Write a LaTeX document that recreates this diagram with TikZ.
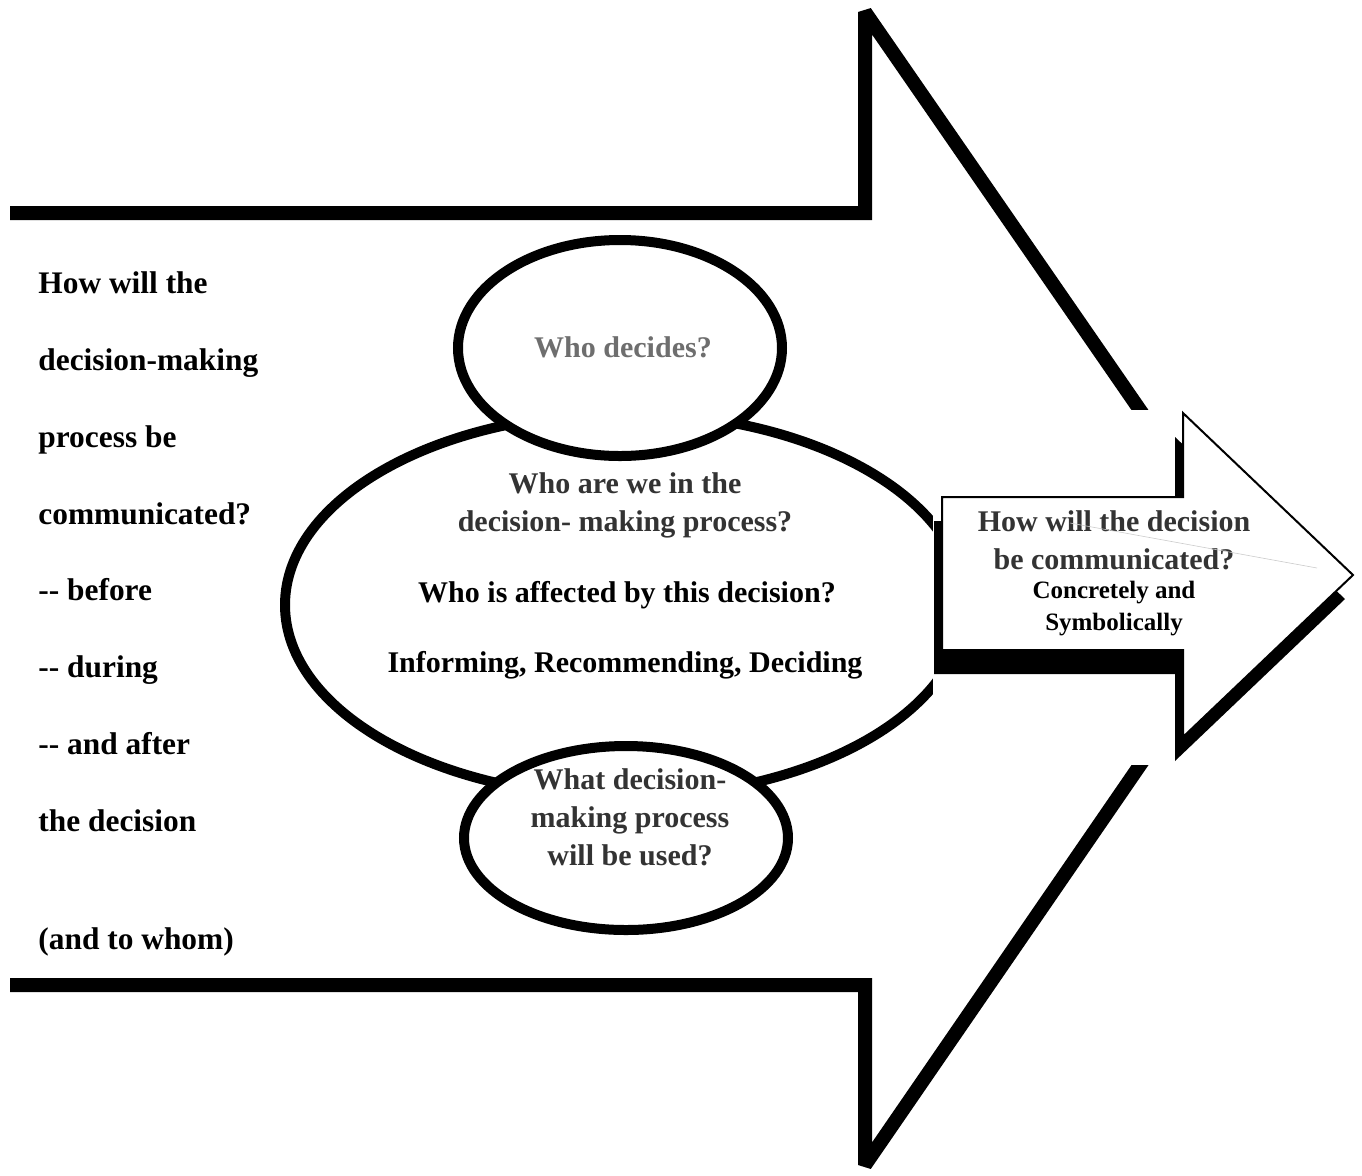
\documentclass[tikz,border=0pt]{standalone}
\usepackage{fontspec}
\setmainfont{Liberation Serif}
\usetikzlibrary{shapes.geometric}
\definecolor{darktext}{HTML}{333333}
\definecolor{greytext}{HTML}{6E6E6E}
\tikzset{
 bigline/.style={line width=7pt,line join=miter,miter limit=2},
 bubble/.style={ellipse,draw,line width=5pt,fill=white,inner sep=0pt},
 qtext/.style={font=\fontsize{15}{19}\selectfont\bfseries,align=center},
 sidetext/.style={font=\fontsize{15.7}{19}\selectfont\bfseries,anchor=base west,inner sep=0pt},
}
\begin{document}
\begin{tikzpicture}[x=0.5pt,y=-0.5pt]
 \useasboundingbox[fill=white] (0,0) rectangle (1362,1175);
 % big arrow
 \draw[bigline] (10,213) -- (865,213) -- (865,12) -- (1160,439);
 \draw[bigline] (1160,736) -- (865,1165) -- (865,985) -- (10,985);
 % left column
 \node[sidetext] (q1) at (38,293) {How will the};
 \node[sidetext] (q2) at (38,370) {decision-making};
 \node[sidetext] (q3) at (38,447) {process be};
 \node[sidetext] (q4) at (38,524) {communicated?};
 \node[sidetext] (q5) at (38,600) {-{}- before};
 \node[sidetext] (q6) at (38,677) {-{}- during};
 \node[sidetext] (q7) at (38,754) {-{}- and after};
 \node[sidetext] (q8) at (38,831) {the decision};
 \node[sidetext] (q9) at (38,949) {(and to whom)};
 % ellipses
 \node[bubble,minimum width=340pt,minimum height=192pt] (we) at (625,605) {};
 \node[bubble,minimum width=162pt,minimum height=108pt] (who) at (620,348) {};
 \node[bubble,minimum width=162pt,minimum height=92pt] (what) at (626,838) {};
 \node[qtext,text=greytext] (whot) at (623,347) {Who decides?};
 \node[qtext,text=darktext] (wet) at (625,505) {Who are we in the\\decision- making process?};
 \node[qtext] (aff) at (627,595) {Who is affected by this decision?};
 \node[qtext] (irc) at (625,665) {Informing, Recommending, Deciding};
 \node[qtext,text=darktext] (whatt) at (630,817) {What decision-\\making process\\will be used?};
 % small arrow
 \fill[white] (933,410) rectangle (1362,765);
 \fill[black,shift={(-8,24)}] (942,497) -- (1183,497) -- (1183,413) -- (1353,575) -- (1183,737) -- (1183,650) -- (942,650) -- cycle;
 \draw[fill=white,line width=1pt] (942,497) -- (1183,497) -- (1183,413) -- (1353,575) -- (1183,737) -- (1183,650) -- (942,650) -- cycle;
 \node[qtext,text=darktext] (how) at (1114,540) {How will the decision\\be communicated?};
 \node[qtext,font=\fontsize{12.5}{16}\selectfont\bfseries] (conc) at (1114,609) {Concretely and\\Symbolically};
 \draw[gray!40,line width=0.3pt] (1070,523) -- (1317,568);
\end{tikzpicture}
\end{document}
